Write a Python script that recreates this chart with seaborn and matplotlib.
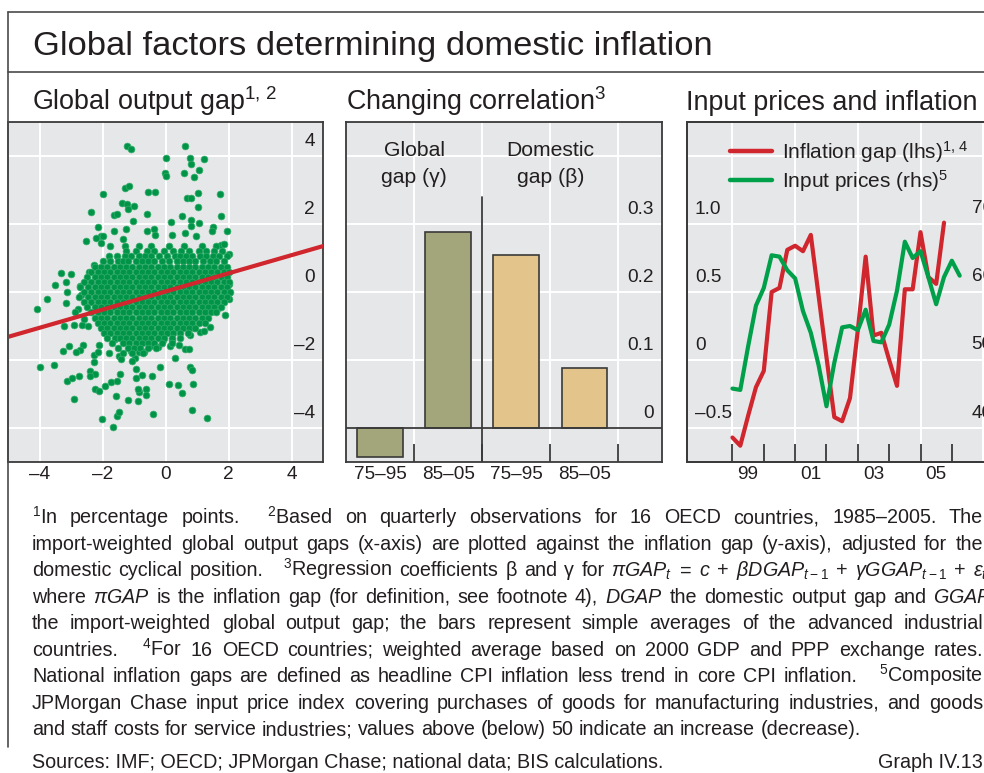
import numpy as np
import pandas as pd
import matplotlib
matplotlib.use("Agg")
import matplotlib.pyplot as plt
import seaborn as sns
from matplotlib.lines import Line2D

# ---------------- data ----------------
# Panel 1: global output gap (x) vs inflation gap (y)
upper_x = [-1.23,-1.11,0.63,0.03,0.77,1.21,0.81,-0.03,0.03,0.58,1.06,0.91,-1.28,-1.15,-1.98,-0.55,-0.32,1.03,1.74,0.68,0.81,1.04,-1.38,-1.23,-1.00,-1.20,-2.37,-1.62,-1.55,-0.60,0.51,1.77,-1.02,0.17,0.80,1.07,-2.14,-1.24,-0.60,-0.36,0.80,1.51,1.96,1.47,-2.06,-1.97,-2.20,-2.52,-2.04,-1.65,-1.36,-0.33,0.20,0.61,0.98,1.75,1.87,2.00]
upper_y = [4.28,4.22,4.30,3.93,3.93,3.91,3.77,3.50,3.42,3.50,3.60,3.39,3.07,3.13,2.88,2.93,2.93,2.91,2.89,2.76,2.76,2.51,2.62,2.60,2.52,2.44,2.34,2.27,2.30,2.30,2.23,2.23,2.08,2.06,2.11,2.02,1.92,1.84,1.78,1.85,1.94,1.92,1.80,1.80,1.66,1.65,1.58,1.50,1.43,1.80,1.55,1.67,1.67,1.74,1.66,1.39,1.41,1.12]
left_x = [-3.32,-3.00,-3.52,-3.15,-3.13,-3.15,-3.77,-4.07,-3.23,-2.89,-2.66,-2.47,-2.26,-2.12,-2.42,-2.71,-2.67,-2.77,-2.87,-2.60]
left_y = [0.57,0.54,0.22,0.28,0.01,-0.33,-0.22,-0.50,-1.00,-0.96,-0.98,-1.00,0.80,0.70,0.60,0.17,-0.10,-0.51,-0.60,-0.78]
lower_x = [-4.00,-3.55,-3.07,-3.25,-2.61,-2.71,-2.83,-3.12,-2.97,-2.74,-2.91,-2.26,-2.27,-2.14,-2.39,-2.23,-2.41,-2.25,-2.12,-2.03,-1.92,-1.72,-1.55,-1.44,-1.68,-1.55,-1.47,-1.56,-1.20,-0.88,-0.84,-0.88,-0.62,-0.95,-0.76,-0.44,-0.40,-0.63,-0.18,0.12,0.39,0.51,0.79,0.84,0.87,0.85,1.31,0.29,0.42,0.13,0.63,0.76,1.09,1.21,1.40,1.88,1.68,2.03,2.01,2.02,-0.93,-0.83,-0.98,-1.09,-1.32,-1.60,-1.75,-1.87,-2.03,-2.10,-1.80,-1.49,-1.41,-1.07,-0.68,-0.48,-0.24,-0.07,0.21,0.91,0.77]
lower_y = [-2.20,-2.15,-1.59,-1.73,-1.56,-1.70,-1.76,-2.62,-2.53,-2.47,-3.16,-1.85,-2.06,-1.75,-2.32,-2.40,-2.48,-2.84,-2.90,-3.73,-2.75,-2.65,-2.63,-2.42,-3.96,-3.64,-3.52,-3.05,-3.17,-3.21,-2.95,-2.86,-2.84,-2.53,-2.45,-2.47,-3.60,-3.02,-2.22,-2.71,-2.74,-2.97,-2.20,-2.29,-2.71,-3.46,-3.71,-1.94,-1.56,-1.59,-1.69,-1.69,-1.19,-1.15,-1.02,-0.69,-0.47,-0.22,0.24,-0.03,-2.25,-1.76,-1.93,-1.73,-1.35,-1.37,-1.22,-1.07,-0.97,-1.55,-1.78,-1.87,-1.96,-2.03,-1.76,-1.59,-1.61,-1.41,-1.40,-1.05,-1.25]
core_y = [1.35, 1.2, 1.05, 0.9, 0.75, 0.6, 0.45, 0.3, 0.15, 0.0, -0.15, -0.3, -0.45, -0.6, -0.75, -0.9, -1.05, -1.2, -1.35, -1.5, -1.65, -1.8]
core_x_rows = [
    [-1.75, -1.3, -0.85, -0.45, 0.1, 0.6, 1.15, 1.6],
    [-1.25, -0.95, -0.6, -0.35, -0.05, 0.25, 0.5, 0.75, 1.05, 1.3, 1.55, 1.8],
    [-1.8, -1.55, -1.3, -1.1, -0.85, -0.65, -0.45, -0.2, 0.05, 0.3, 0.45, 0.65, 0.85, 1.1, 1.3, 1.5, 1.7, 1.95],
    [-2.0, -1.75, -1.5, -1.35, -1.2, -0.95, -0.75, -0.55, -0.35, -0.1, 0.1, 0.35, 0.55, 0.75, 0.95, 1.2, 1.4, 1.6, 1.85],
    [-2.25, -2.05, -1.85, -1.65, -1.45, -1.25, -1.05, -0.85, -0.65, -0.45, -0.25, -0.05, 0.15, 0.35, 0.55, 0.75, 0.95, 1.15, 1.35, 1.55, 1.75, 1.95],
    [-2.35, -2.15, -1.95, -1.75, -1.55, -1.35, -1.15, -0.95, -0.75, -0.55, -0.35, -0.15, 0.05, 0.25, 0.45, 0.65, 0.85, 1.05, 1.25, 1.45, 1.65, 1.85, 2.0],
    [-2.5, -2.25, -2.05, -1.85, -1.65, -1.45, -1.25, -1.05, -0.85, -0.65, -0.45, -0.25, -0.05, 0.15, 0.35, 0.55, 0.75, 0.95, 1.15, 1.35, 1.55, 1.75, 1.95],
    [-2.6, -2.35, -2.15, -1.95, -1.75, -1.55, -1.35, -1.15, -0.95, -0.75, -0.55, -0.35, -0.15, 0.05, 0.25, 0.45, 0.65, 0.85, 1.05, 1.25, 1.45, 1.65, 1.85, 2.0],
    [-2.7, -2.45, -2.25, -2.05, -1.85, -1.65, -1.45, -1.25, -1.05, -0.85, -0.65, -0.45, -0.25, -0.05, 0.15, 0.35, 0.55, 0.75, 0.95, 1.15, 1.35, 1.55, 1.75, 1.95],
    [-2.6, -2.35, -2.15, -1.95, -1.75, -1.55, -1.35, -1.15, -0.95, -0.75, -0.55, -0.35, -0.15, 0.05, 0.25, 0.45, 0.65, 0.85, 1.05, 1.25, 1.45, 1.65, 1.85, 2.05],
    [-2.75, -2.45, -2.25, -2.05, -1.85, -1.65, -1.45, -1.25, -1.05, -0.85, -0.65, -0.45, -0.25, -0.05, 0.15, 0.35, 0.55, 0.75, 0.95, 1.15, 1.35, 1.55, 1.75, 1.95],
    [-2.6, -2.35, -2.15, -1.95, -1.75, -1.55, -1.35, -1.15, -0.95, -0.75, -0.55, -0.35, -0.15, 0.05, 0.25, 0.45, 0.65, 0.85, 1.05, 1.25, 1.45, 1.65, 1.85],
    [-2.5, -2.25, -2.05, -1.85, -1.65, -1.45, -1.25, -1.05, -0.85, -0.65, -0.45, -0.25, -0.05, 0.15, 0.35, 0.55, 0.75, 0.95, 1.15, 1.35, 1.55, 1.75],
    [-2.35, -2.15, -1.95, -1.75, -1.55, -1.35, -1.15, -0.95, -0.75, -0.55, -0.35, -0.15, 0.05, 0.25, 0.45, 0.65, 0.85, 1.05, 1.25, 1.45, 1.6],
    [-2.25, -2.05, -1.85, -1.65, -1.45, -1.25, -1.05, -0.85, -0.65, -0.45, -0.25, -0.05, 0.15, 0.35, 0.55, 0.75, 0.95, 1.15, 1.35],
    [-2.15, -1.95, -1.75, -1.55, -1.35, -1.15, -0.95, -0.75, -0.55, -0.35, -0.15, 0.05, 0.25, 0.45, 0.65, 0.85, 1.05, 1.25],
    [-2.05, -1.85, -1.65, -1.45, -1.25, -1.05, -0.85, -0.65, -0.45, -0.25, -0.05, 0.15, 0.35, 0.55, 0.75, 0.95],
    [-1.95, -1.75, -1.55, -1.35, -1.15, -0.95, -0.75, -0.55, -0.35, -0.15, 0.05, 0.25, 0.45, 0.7],
    [-1.85, -1.6, -1.45, -1.25, -1.05, -0.85, -0.65, -0.45, -0.25, -0.05, 0.2, 0.45],
    [-1.7, -1.35, -1.15, -0.95, -0.75, -0.55, -0.35, -0.1, 0.2],
    [-1.5, -1.2, -1.0, -0.8, -0.55, -0.3],
    [-1.35, -1.05, -0.7],
]
reg_x = [-5.0, 5.0]
reg_y = [-1.32, 1.35]
scatter_ticks = [-4, -2, 0, 2, 4]
scatter_tick_labels = ["–4", "–2", "0", "2", "4"]

# Panel 2: regression coefficients
bar_periods = ["75–95", "85–05", "75–95", "85–05"]
bar_groups = ["global", "global", "domestic", "domestic"]
bar_values = [-0.042, 0.288, 0.254, 0.088]
bar_ticks = [0, 0.1, 0.2, 0.3]
bar_tick_labels = ["0", "0.1", "0.2", "0.3"]

# Panel 3: inflation gap (lhs) and input prices (rhs), quarterly from 1999Q1
inflation_gap = [-0.57, -0.63, -0.41, -0.20, -0.08, 0.50, 0.53, 0.81, 0.84, 0.80,
                 0.92, 0.47, 0.02, -0.42, -0.45, -0.28, 0.22, 0.76, 0.18, 0.20,
                 0.00, -0.19, 0.52, 0.52, 0.94, 0.61, 0.56, 1.01]
input_prices = [45.8, 45.6, 52.0, 58.0, 60.6, 65.4, 65.2, 63.2, 62.0, 57.2,
                 54.0, 49.2, 43.2, 49.6, 54.8, 55.0, 54.4, 57.4, 52.8, 52.6,
                 55.2, 60.2, 67.4, 65.0, 66.0, 62.2, 58.2, 62.2, 64.6, 62.4]
lhs_ticks = [-0.5, 0, 0.5, 1.0]
lhs_tick_labels = ["–0.5", "0", "0.5", "1.0"]
rhs_ticks = [40, 50, 60, 70]
rhs_tick_labels = ["40", "50", "60", "70"]
year_labels = ["99", "01", "03", "05"]

# ---------------- style ----------------
sns.set_theme(style="white")
plt.rcParams["font.family"] = ["Liberation Sans", "DejaVu Sans"]
plt.rcParams["mathtext.fontset"] = "custom"
plt.rcParams["mathtext.rm"] = "Liberation Sans"
plt.rcParams["mathtext.it"] = "Liberation Sans:italic"
plt.rcParams["mathtext.bf"] = "Liberation Sans:bold"

TXT = "#231F20"
BG = "#E6E7E8"
SPINE = "#3A3A3A"
RED = "#D0262E"
GREEN = "#00A04A"
DOT = "#009448"
DOT_EDGE = "#35AD6B"
OLIVE = "#A3A57A"
TAN = "#E3C58C"

W, H = 984, 773
fig = plt.figure(figsize=(W / 100, H / 100), dpi=100)
fig.patch.set_facecolor("white")
renderer = fig.canvas.get_renderer()
PT = 72 / 100  # pt per px


def fit_size(text, target_px):
    t = fig.text(0, 0, text, size=10)
    w = t.get_window_extent(renderer).width
    t.remove()
    return 10 * target_px / w


title_size = fit_size("Global factors determining domestic inflation", 682)
panel_size = fit_size("Global output gap", 212)
tick_size = fit_size("75–95", 53)
foot_size = fit_size("Sources: IMF; OECD; JPMorgan Chase; national data; BIS calculations.", 630)
legend_size = fit_size("Inflation gap (lhs)", 161)
inner_size = fit_size("Domestic", 88)


def add_axes_px(x0, y0, x1, y1):
    return fig.add_axes([x0 / W, 1 - y1 / H, (x1 - x0) / W, (y1 - y0) / H])


def style_axes(ax):
    ax.set_facecolor(BG)
    for s in ax.spines.values():
        s.set_color(SPINE)
        s.set_linewidth(1.3)
        s.set_visible(True)
    ax.set_xlabel("")
    ax.set_ylabel("")


def inside_labels(ax, values, labels, side, xfrac=None):
    for v, lab in zip(values, labels):
        if side == "right":
            ax.annotate(lab, xy=(1, v), xycoords=("axes fraction", "data"),
                        xytext=(-8 * PT, 15 * PT), textcoords="offset points",
                        ha="right", va="center", size=tick_size, color=TXT)
        else:
            ax.annotate(lab, xy=(xfrac, v), xycoords=("axes fraction", "data"),
                        xytext=(0, 15 * PT), textcoords="offset points",
                        ha="left", va="center", size=tick_size, color=TXT)


# ---------------- frame & titles ----------------
frame_kw = dict(color="#4A4A4A", lw=1.2, transform=fig.transFigure)
fig.add_artist(Line2D([8 / W, 1], [1 - 11.7 / H] * 2, **frame_kw))
fig.add_artist(Line2D([8 / W, 1], [1 - 71.7 / H] * 2, **frame_kw))
fig.add_artist(Line2D([8 / W] * 2, [1 - 11.7 / H, 1 - 747 / H], **frame_kw))

fig.text(33 / W, 1 - 55 / H, "Global factors determining domestic inflation",
         size=title_size, color=TXT, va="baseline")
fig.text(32 / W, 1 - 110.5 / H, r"Global output gap$^{1,\,2}$", size=panel_size, color=TXT, va="baseline")
fig.text(346.5 / W, 1 - 110.5 / H, r"Changing correlation$^{3}$", size=panel_size, color=TXT, va="baseline")
fig.text(686 / W, 1 - 110.5 / H, "Input prices and inflation", size=panel_size, color=TXT, va="baseline")

# ---------------- panel 1: scatter ----------------
axL = add_axes_px(8, 122, 323, 462)
style_axes(axL)
core_xs, core_ys = [], []
for yv, xs in zip(core_y, core_x_rows):
    core_xs += xs
    core_ys += [yv] * len(xs)
scat = pd.DataFrame({
    "global_gap": upper_x + left_x + lower_x + core_xs,
    "inflation_gap": upper_y + left_y + lower_y + core_ys,
})
sns.scatterplot(data=scat, x="global_gap", y="inflation_gap", ax=axL, s=24,
                color=DOT, edgecolor=DOT_EDGE, linewidth=0.5, legend=False, zorder=3)
sns.lineplot(x=reg_x, y=reg_y, ax=axL, color=RED, lw=3.0, zorder=4)
axL.set_xlim(-5, 5)
axL.set_ylim(-5, 5)
axL.set_xticks(scatter_ticks)
axL.set_xticklabels(scatter_tick_labels)
axL.set_yticks(scatter_ticks)
axL.grid(True, color="white", lw=1.4)
axL.set_axisbelow(True)
axL.tick_params(axis="x", length=0, pad=3, labelsize=tick_size, labelcolor=TXT)
axL.tick_params(axis="y", length=0, labelleft=False)
axL.set_xlabel("")
axL.set_ylabel("")
inside_labels(axL, scatter_ticks, scatter_tick_labels, "right")

# ---------------- panel 2: bars ----------------
axM = add_axes_px(346, 122, 662, 462)
style_axes(axM)
bars = pd.DataFrame({"pos": [0, 1, 2, 3], "value": bar_values, "group": bar_groups})
sns.barplot(data=bars, x="pos", y="value", hue="group", dodge=False, ax=axM,
            palette={"global": OLIVE, "domestic": TAN}, width=0.67, saturation=1,
            edgecolor=SPINE, linewidth=1.2, legend=False, zorder=3)
axM.set_xlim(-0.5, 4.14)
axM.set_ylim(-0.05, 0.45)
axM.set_yticks([0, 0.1, 0.2, 0.3, 0.4])
axM.set_xticks([0, 1, 2, 3])
axM.set_xticklabels(bar_periods)
axM.set_xticks([0.5, 1.5, 2.5, 3.5], minor=True)
axM.grid(True, axis="y", color="white", lw=1.4)
axM.grid(True, axis="x", which="minor", color="white", lw=1.4)
axM.set_axisbelow(True)
axM.tick_params(axis="x", which="major", length=0, pad=3, labelsize=tick_size, labelcolor=TXT)
axM.tick_params(axis="x", which="minor", bottom=True, direction="in", length=18 * PT,
                width=1.3, color=SPINE)
axM.tick_params(axis="y", length=0, labelleft=False)
axM.axhline(0, color=SPINE, lw=1.3, zorder=4)
axM.axvline(1.5, ymin=0, ymax=(0.34 + 0.05) / 0.5, color=SPINE, lw=1.3, zorder=4)
axM.text(0.5, 0.408, "Global", ha="center", va="center", size=inner_size, color=TXT)
axM.text(0.5, 0.369, "gap (γ)", ha="center", va="center", size=inner_size, color=TXT)
axM.text(2.5, 0.408, "Domestic", ha="center", va="center", size=inner_size, color=TXT)
axM.text(2.5, 0.369, "gap (β)", ha="center", va="center", size=inner_size, color=TXT)
axM.set_xlabel("")
axM.set_ylabel("")
inside_labels(axM, bar_ticks, bar_tick_labels, "right")

# ---------------- panel 3: lines ----------------
qs = pd.period_range("1999Q1", periods=len(input_prices), freq="Q")
qyears = [p.year + (p.quarter - 1) / 4 for p in qs]
axR = add_axes_px(687, 122, 1002, 462)
style_axes(axR)
axR.set_xlim(1997.55, 2007.6)
axR.set_ylim(-0.75, 1.75)
axR.set_yticks([-0.5, 0, 0.5, 1.0, 1.5])
axR.grid(True, axis="y", color="white", lw=1.4)
for yr in [1999, 2001, 2003, 2005, 2007]:
    axR.axvline(yr, color="white", lw=1.4, zorder=0.5)
axR.set_axisbelow(True)
sns.lineplot(x=qyears[:len(inflation_gap)], y=inflation_gap, ax=axR, color=RED, lw=3.0, zorder=3)
axR.set_xticks(list(range(1999, 2007)))
axR.set_xticklabels([])
axR.set_xticks([1999.5, 2001.5, 2003.5, 2005.5], minor=True)
axR.set_xticklabels(year_labels, minor=True)
axR.tick_params(axis="x", which="major", bottom=True, direction="in", length=18 * PT,
                width=1.3, color=SPINE)
axR.tick_params(axis="x", which="minor", length=0, pad=3, labelsize=tick_size, labelcolor=TXT)
axR.tick_params(axis="y", length=0, labelleft=False, labelright=False)
axR.set_xlabel("")
axR.set_ylabel("")
inside_labels(axR, lhs_ticks, lhs_tick_labels, "left", xfrac=(695 - 687) / 315)

axR2 = axR.twinx()
axR2.set_ylim(35, 85)
sns.lineplot(x=qyears, y=input_prices, ax=axR2, color=GREEN, lw=3.0, zorder=3)
axR2.set_yticks([])
axR2.set_ylabel("")
for s in axR2.spines.values():
    s.set_color(SPINE)
    s.set_linewidth(1.3)
inside_labels(axR2, rhs_ticks, rhs_tick_labels, "left", xfrac=(971.7 - 687) / 315)
handles = [Line2D([], [], color=RED, lw=3.2), Line2D([], [], color=GREEN, lw=3.2)]
axR2.legend(handles, [r"Inflation gap (lhs)$^{1,\,4}$", r"Input prices (rhs)$^{5}$"],
            loc="upper left", bbox_to_anchor=((730 - 687) / 315, 1 - (139 - 122) / 340),
            frameon=False, fontsize=legend_size, handlelength=2.0, handletextpad=0.5,
            labelspacing=0.15, borderpad=0, borderaxespad=0, labelcolor=TXT)

# ---------------- footnotes ----------------
foot_lines = [
    r"$^{1}$In percentage points.   $^{2}$Based on quarterly observations for 16 OECD countries, 1985–2005. The",
    r"import-weighted global output gaps (x-axis) are plotted against the inflation gap (y-axis), adjusted for the",
    r"domestic cyclical position.    $^{3}$Regression coefficients β and γ for $\pi{}GAP_t$ = $c$ + $\beta{}DGAP_{t-1}$ + $\gamma{}GGAP_{t-1}$ + $\varepsilon_t$,",
    r"where $\pi{}GAP$ is the inflation gap (for definition, see footnote 4), $DGAP$ the domestic output gap and $GGAP$",
    r"the import-weighted global output gap; the bars represent simple averages of the advanced industrial",
    r"countries.    $^{4}$For 16 OECD countries; weighted average based on 2000 GDP and PPP exchange rates.",
    r"National inflation gaps are defined as headline CPI inflation less trend in core CPI inflation.    $^{5}$Composite",
    r"JPMorgan Chase input price index covering purchases of goods for manufacturing industries, and goods",
    r"and staff costs for service industries; values above (below) 50 indicate an increase (decrease).",
]
foot_right = [983, 983, 992, 992, 983, 983, 983, 983, None]
space_px = foot_size / PT * 0.278


def layout_line(line, baseline, x0, x1):
    tokens = line.split(" ")
    words, weights = [], []
    wgt = 1.0
    for tok in tokens:
        if tok == "":
            wgt += 0.6
            continue
        if words:
            weights.append(wgt)
        words.append(tok)
        wgt = 1.0
    arts = [fig.text(0, 0, w, size=foot_size, color=TXT, va="baseline", ha="left") for w in words]
    widths = [a.get_window_extent(renderer).width for a in arts]
    if x1 is None:
        unit = space_px
    else:
        unit = (x1 - x0 - sum(widths)) / sum(weights)
    x = x0
    for i, a in enumerate(arts):
        a.set_position((x / W, 1 - baseline / H))
        x += widths[i] + (weights[i] * unit if i < len(weights) else 0)


for i, (line, xr) in enumerate(zip(foot_lines, foot_right)):
    layout_line(line, 523.3 + 26.5 * i, 32, xr)

fig.text(32 / W, 1 - 768.3 / H, "Sources: IMF; OECD; JPMorgan Chase; national data; BIS calculations.",
         size=foot_size, color=TXT, va="baseline")
fig.text(983 / W, 1 - 768.3 / H, "Graph IV.13", size=foot_size, color=TXT, va="baseline", ha="right")

fig.savefig("out.png", dpi=100, facecolor="white")
